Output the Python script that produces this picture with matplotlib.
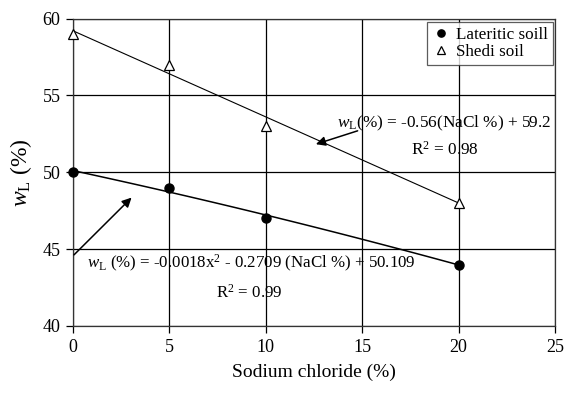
import numpy as np
import matplotlib
matplotlib.use("Agg")
import matplotlib.pyplot as plt

plt.rcParams['font.family'] = ['Liberation Serif', 'DejaVu Serif']
plt.rcParams['mathtext.fontset'] = 'custom'
plt.rcParams['mathtext.rm'] = 'Liberation Serif'
plt.rcParams['mathtext.it'] = 'Liberation Serif:italic'

# data
nacl = [0, 5, 10, 20]
lateritic = [50, 49, 47, 44]
shedi = [59, 57, 53, 48]

# trendline coefficients (from the equations printed on the chart)
lat_coef = [-0.0018, -0.2709, 50.109]
shedi_coef = [-0.56, 59.2]

fig = plt.figure(figsize=(5.64, 3.93), dpi=100)
ax = fig.add_axes([73/564, 1-326/393, 482/564, 307.5/393])

xs = np.linspace(0, 20, 50)
ax.plot(xs, np.polyval(lat_coef, xs), color='black', lw=1.1, zorder=3)
ax.plot(xs, np.polyval(shedi_coef, xs), color='black', lw=0.8, zorder=3)

ax.plot(nacl, lateritic, 'o', color='black', ms=6.5, label='Lateritic soill',
        clip_on=False, zorder=4)
ax.plot(nacl, shedi, '^', mfc='white', mec='black', mew=0.9, ms=7,
        label='Shedi soil', clip_on=False, zorder=4)

ax.set_xlim(0, 25)
ax.set_ylim(40, 60)
ax.set_xticks([0, 5, 10, 15, 20, 25])
ax.set_yticks([40, 45, 50, 55, 60])
ax.grid(True, color='black', lw=0.9)
ax.set_axisbelow(True)
for s in ax.spines.values():
    s.set_color('#333333')
    s.set_linewidth(0.9)
ax.tick_params(direction='out', length=5, width=0.9, labelsize=13, pad=4)

ax.set_xlabel('Sodium chloride (%)', fontsize=14, labelpad=6)
ax.set_ylabel(r'$w_{\mathrm{L}}$ (%)', fontsize=17, labelpad=6)

ax.text(19.23, 53.2, r'$w_{\mathrm{L}}$(%) = -0.56(NaCl %) + 59.2',
        ha='center', va='center', fontsize=12.4)
ax.text(19.3, 51.45, r'R$^2$ = 0.98', ha='center', va='center', fontsize=12.4)
ax.text(9.25, 44.05, r'$w_{\mathrm{L}}$ (%) = -0.0018x$^2$ - 0.2709 (NaCl %) + 50.109',
        ha='center', va='center', fontsize=12.2)
ax.text(9.15, 42.15, r'R$^2$ = 0.99', ha='center', va='center', fontsize=12.2)

arrow = dict(arrowstyle='-|>', color='black', lw=1.1, mutation_scale=14)
ax.annotate('', xy=(12.46, 51.77), xytext=(14.9, 52.75), arrowprops=arrow)
ax.annotate('', xy=(3.14, 48.48), xytext=(-0.05, 44.5), arrowprops=arrow,
            annotation_clip=False)

leg = ax.legend(loc='upper right', bbox_to_anchor=(0.996, 0.989), fontsize=12.3,
                frameon=True, fancybox=False, edgecolor='#333333',
                handlelength=1.1, handletextpad=0.3, borderpad=0.3,
                labelspacing=0.05, borderaxespad=0, markerscale=0.8)
leg.get_frame().set_linewidth(0.9)

fig.savefig('out.png', dpi=100)
